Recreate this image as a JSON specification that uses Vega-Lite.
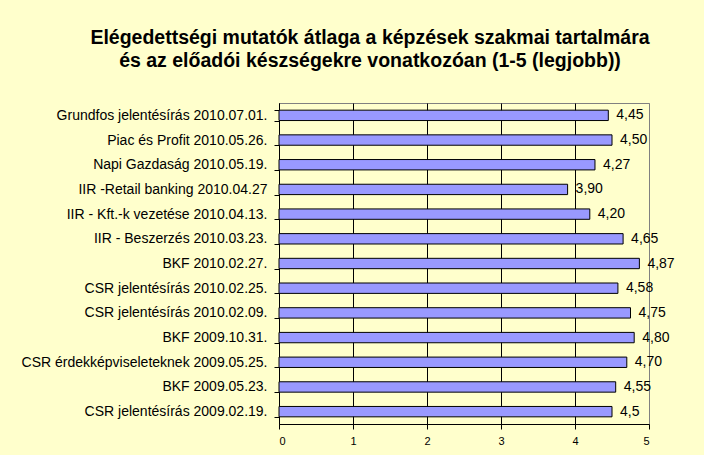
{
  "$schema": "https://vega.github.io/schema/vega-lite/v6.json",
  "width": 370,
  "height": 321,
  "autosize": {"type": "none"},
  "padding": {"left": 279, "top": 103, "right": 55, "bottom": 31},
  "background": "#FFFFCC",
  "title": {
    "text": ["Elégedettségi mutatók átlaga a képzések szakmai tartalmára", "és az előadói készségekre vonatkozóan (1-5 (legjobb))"],
    "font": "Liberation Sans",
    "fontSize": 19.5,
    "fontWeight": "bold",
    "color": "black",
    "anchor": "middle",
    "dx": -94,
    "offset": 25,
    "lineHeight": 23
  },
  "config": {
    "view": {"stroke": "#808080", "strokeWidth": 1},
    "font": "Liberation Sans"
  },
  "data": {
    "values": [
      {"name": "Grundfos jelentésírás 2010.07.01.", "value": 4.45, "label": "4,45"},
      {"name": "Piac és Profit 2010.05.26.", "value": 4.50, "label": "4,50"},
      {"name": "Napi Gazdaság 2010.05.19.", "value": 4.27, "label": "4,27"},
      {"name": "IIR -Retail banking 2010.04.27", "value": 3.90, "label": "3,90"},
      {"name": "IIR - Kft.-k vezetése 2010.04.13.", "value": 4.20, "label": "4,20"},
      {"name": "IIR - Beszerzés 2010.03.23.", "value": 4.65, "label": "4,65"},
      {"name": "BKF 2010.02.27.", "value": 4.87, "label": "4,87"},
      {"name": "CSR jelentésírás 2010.02.25.", "value": 4.58, "label": "4,58"},
      {"name": "CSR jelentésírás 2010.02.09.", "value": 4.75, "label": "4,75"},
      {"name": "BKF 2009.10.31.", "value": 4.80, "label": "4,80"},
      {"name": "CSR érdekképviseleteknek 2009.05.25.", "value": 4.70, "label": "4,70"},
      {"name": "BKF 2009.05.23.", "value": 4.55, "label": "4,55"},
      {"name": "CSR jelentésírás 2009.02.19.", "value": 4.5, "label": "4,5"}
    ]
  },
  "encoding": {
    "y": {
      "field": "name",
      "type": "nominal",
      "sort": null,
      "scale": {"paddingInner": 0.58, "paddingOuter": 0.29},
      "axis": {
        "title": null,
        "grid": false,
        "domainColor": "black",
        "tickColor": "black",
        "tickSize": 5,
        "tickBand": "extent",
        "labelFontSize": 14,
        "labelColor": "black",
        "labelPadding": 7,
        "labelLimit": 300
      }
    }
  },
  "layer": [
    {
      "mark": {"type": "bar", "fill": "#9999FF", "stroke": "black", "strokeWidth": 1},
      "encoding": {
        "x": {
          "field": "value",
          "type": "quantitative",
          "scale": {"domain": [0, 5], "nice": false},
          "axis": {
            "title": null,
            "values": [0, 1, 2, 3, 4, 5],
            "format": "d",
            "grid": true,
            "gridColor": {"condition": {"test": "datum.value === 5", "value": "#808080"}, "value": "black"},
            "gridOpacity": 1,
            "domainColor": "black",
            "tickColor": "black",
            "tickSize": 5,
            "labelFontSize": 11,
            "labelColor": "black",
            "labelPadding": 6
          }
        }
      }
    },
    {
      "mark": {"type": "text", "align": "left", "dx": 8, "fontSize": 14, "color": "black"},
      "encoding": {
        "x": {"field": "value", "type": "quantitative"},
        "text": {"field": "label"}
      }
    }
  ]
}
